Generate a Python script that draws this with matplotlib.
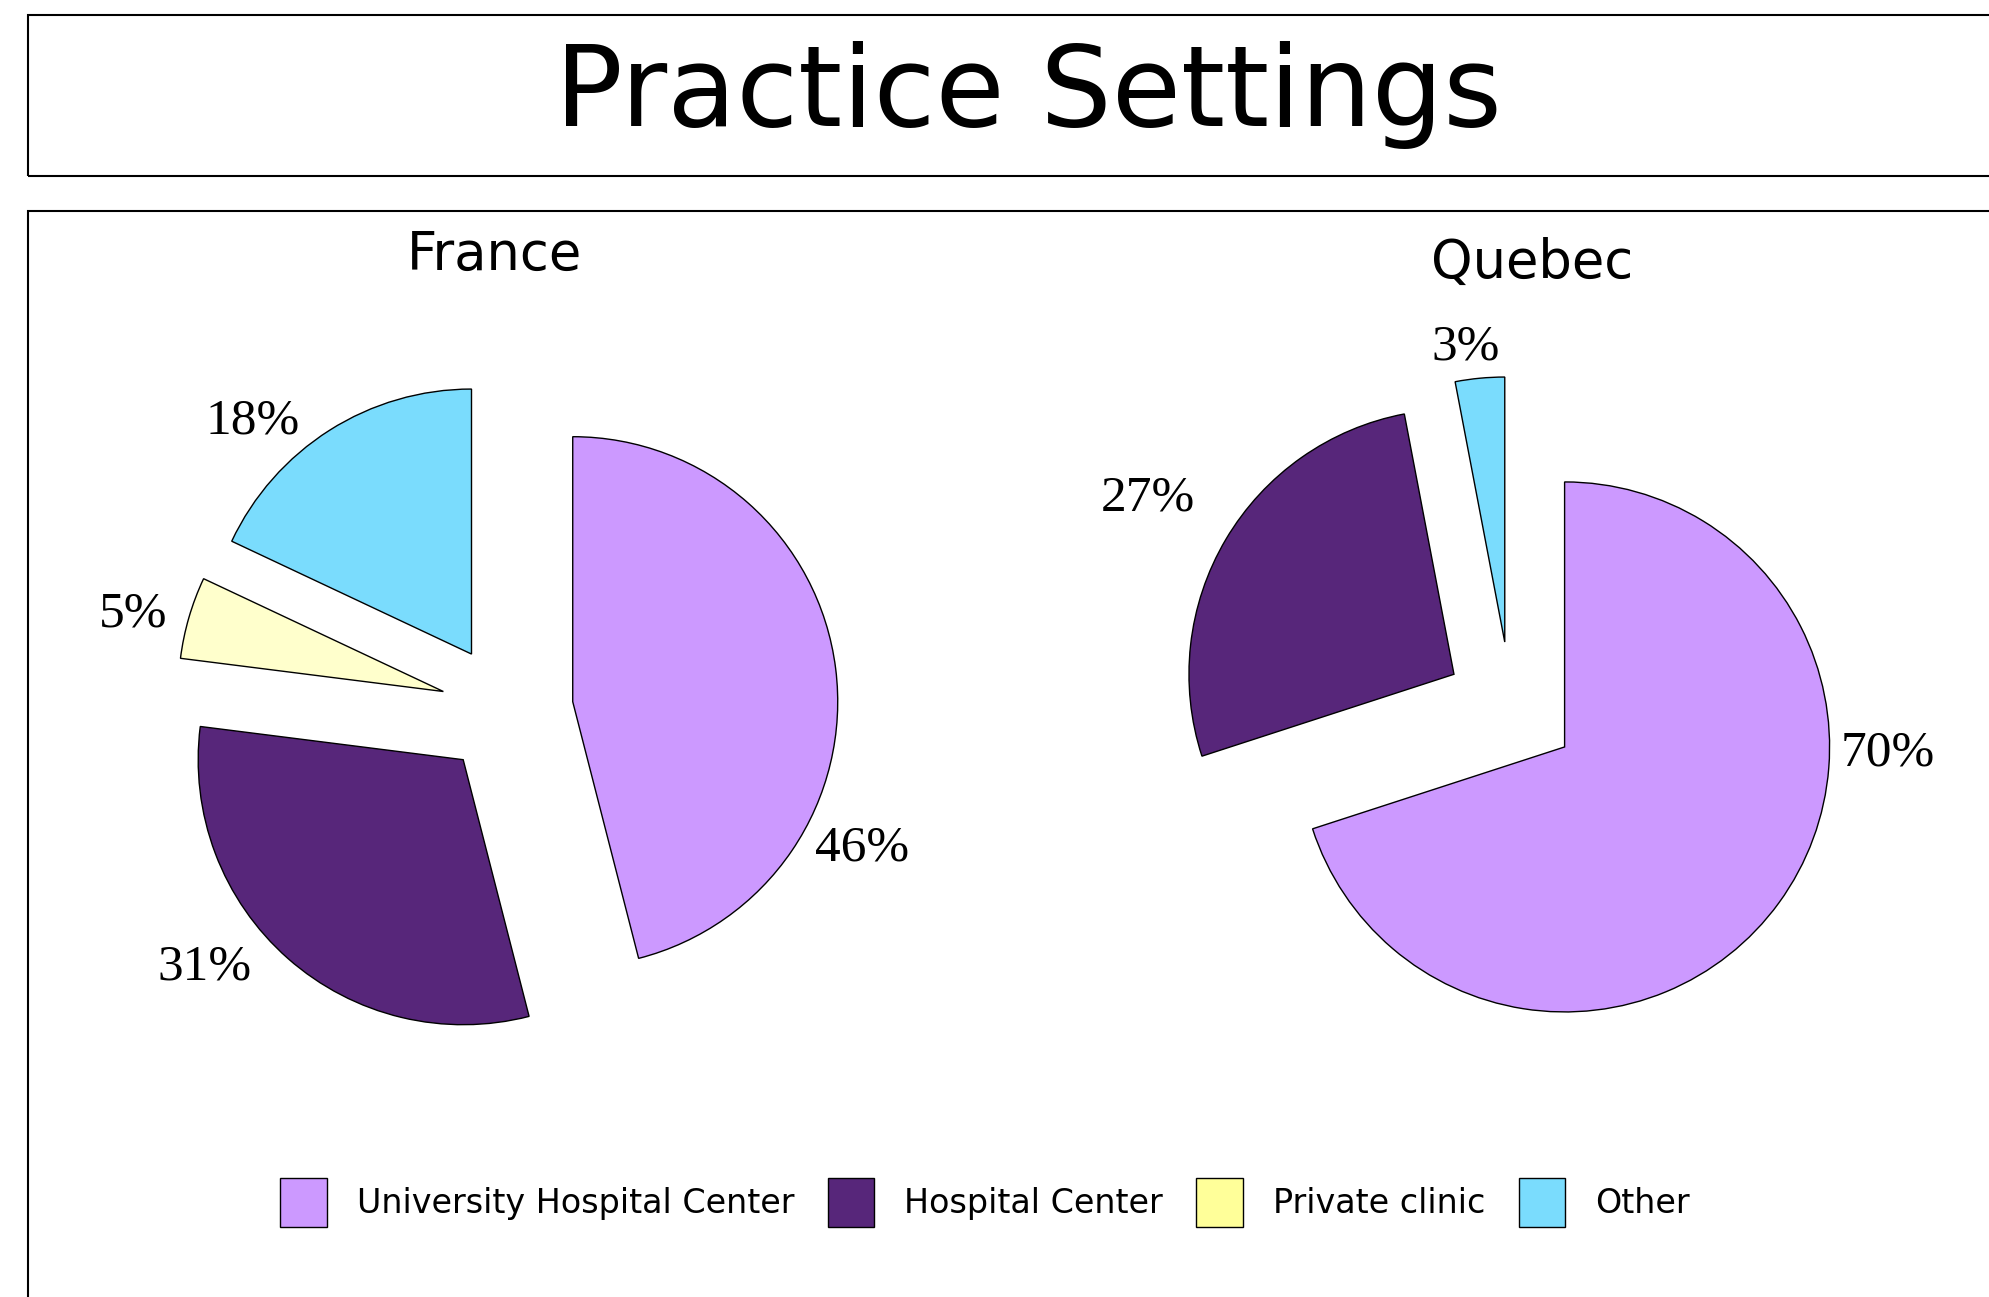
import matplotlib.pyplot as plt
from matplotlib.patches import Rectangle, Patch

# data
categories = ["University Hospital Center", "Hospital Center", "Private clinic", "Other"]
france = [46, 31, 5, 18]
quebec = [70, 27, 3]
pie_colors = ["#CC99FF", "#57267A", "#FFFFCC", "#7ADCFD"]
legend_colors = ["#CC99FF", "#57267A", "#FFFF99", "#7ADCFD"]

# label offsets (in pie radii from the centre)
france_lbl = [(1.34, -0.52), (-1.14, -0.97), (-1.41, 0.36), (-0.96, 1.09)]
quebec_lbl = [(1.42, -0.17), (-1.37, 0.79), (-0.17, 1.36)]

W, H = 1990, 1297
fig = plt.figure(figsize=(W / 100, H / 100), dpi=100)
ax = fig.add_axes([0, 0, 1, 1])

R = 265
fr_c = (507, H - 710)
qc_c = (1511, H - 708)

def draw(vals, center, lbls, cols):
    # explode is in data units, so scale it with the radius
    ax.pie(vals, colors=cols, startangle=90, counterclock=False,
           explode=[0.25 * R] * len(vals), radius=R, center=center,
           wedgeprops=dict(edgecolor="black", linewidth=1.0))
    for v, (dx, dy) in zip(vals, lbls):
        ax.text(center[0] + dx * R, center[1] + dy * R, f"{v}%",
                ha="center", va="center", fontsize=37,
                family="Liberation Serif")

draw(france, fr_c, france_lbl, pie_colors)
draw(quebec, qc_c, quebec_lbl, pie_colors[:2] + pie_colors[3:])

ax.set_xlim(0, W)
ax.set_ylim(0, H)
ax.set_aspect("equal")
ax.axis("off")

# frames
fig.patches.append(Rectangle((28 / W, 1 - 176 / H), 1.0, 161 / H,
                             transform=fig.transFigure, fill=False,
                             edgecolor="black", linewidth=1.5))
fig.patches.append(Rectangle((28 / W, -0.05), 1.0, 1 - 211 / H + 0.05,
                             transform=fig.transFigure, fill=False,
                             edgecolor="black", linewidth=1.5))

fig.text(1028 / W, 1 - 95 / H, "Practice Settings", ha="center", va="center",
         fontsize=81)
fig.text(495 / W, 1 - 255 / H, "France", ha="center", va="center", fontsize=38)
fig.text(1532 / W, 1 - 263 / H, "Quebec", ha="center", va="center", fontsize=38)

handles = [Patch(facecolor=c, edgecolor="black", linewidth=1.0) for c in legend_colors]
fig.legend(handles, categories, loc="center", bbox_to_anchor=(0.495, 0.073),
           ncol=4, frameon=False, fontsize=24, handlelength=1.4, handleheight=1.9,
           columnspacing=1.0, handletextpad=0.9)

fig.savefig("out.png", dpi=100)
